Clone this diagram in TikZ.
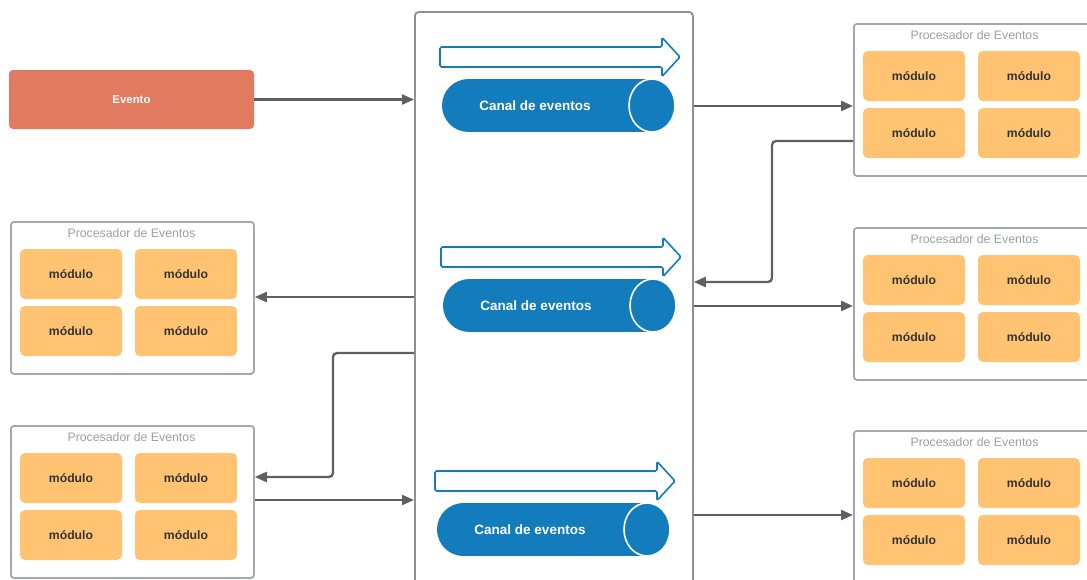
\documentclass[tikz,border=0pt]{standalone}
\usepackage{fontspec}
\setmainfont{Liberation Sans}
\usetikzlibrary{arrows.meta,calc}

\definecolor{evred}{HTML}{E27A5F}
\definecolor{chanblue}{HTML}{137CBD}
\definecolor{modorange}{HTML}{FFC372}
\definecolor{procgray}{HTML}{A3A8AF}
\definecolor{busgray}{HTML}{8C9198}
\definecolor{linegray}{HTML}{5F5F5F}
\definecolor{titlegray}{HTML}{9AA0A7}
\definecolor{modtext}{HTML}{333333}

% event channel: hollow flow arrow above a lying cylinder
% #1 name, #2 left x of the arrow, #3 centre y of the cylinder
\newcommand\eventchannel[3]{%
  \draw[chanblue, line width=1.6pt, rounded corners=1.5pt]
    (#2,#3-58.5) -- (#2+222,#3-58.5) -- (#2+222,#3-68) -- (#2+240,#3-48.5)
    -- (#2+222,#3-29) -- (#2+222,#3-38.5) -- (#2,#3-38.5) -- cycle;
  \fill[chanblue] (#2+28.5,#3) circle[radius=26.5];
  \fill[chanblue] (#2+28.5,#3-26.5) rectangle (#2+212,#3+26.5);
  \filldraw[fill=chanblue, draw=white, line width=1.6pt]
    (#2+212,#3) ellipse[x radius=23, y radius=26.5];
  \node[chantext] (#1) at (#2+95,#3) {Canal de eventos};
}

% event processor with its title and four modules
% #1 name, #2 left x, #3 top y
\newcommand\eventprocessor[3]{%
  \node[proc, anchor=north west] (#1) at (#2,#3) {};
  \node[ptitle] (#1-title) at (#2+121.5,#3+12) {Procesador de Eventos};
  \node[modbox] (#1-m1) at (#2+61,#3+53) {módulo};
  \node[modbox] (#1-m2) at (#2+176,#3+53) {módulo};
  \node[modbox] (#1-m3) at (#2+61,#3+110) {módulo};
  \node[modbox] (#1-m4) at (#2+176,#3+110) {módulo};
}

\begin{document}
\begin{tikzpicture}[x=1pt, y=-1pt,
  conn/.style={draw=linegray, line width=2.3pt, rounded corners=4pt,
    -{Triangle[length=12pt,width=10pt]}},
  proc/.style={draw=procgray, line width=1.8pt, rounded corners=3pt, fill=white,
    minimum width=243pt, minimum height=152pt, inner sep=0pt},
  ptitle/.style={text=titlegray, font=\fontsize{12.3}{14}\selectfont, inner sep=0pt},
  modbox/.style={fill=modorange, rounded corners=5pt, minimum width=102pt,
    minimum height=50pt, inner sep=0pt, text=modtext,
    font=\bfseries\fontsize{12.2}{14}\selectfont},
  chantext/.style={text=white, font=\bfseries\fontsize{13.5}{16}\selectfont, inner sep=0pt},
  evbox/.style={fill=evred, rounded corners=4pt, minimum width=245pt,
    minimum height=59pt, inner sep=0pt, text=white,
    font=\bfseries\fontsize{11.4}{14}\selectfont},
  busbox/.style={draw=busgray, line width=1.8pt, rounded corners=4pt, fill=white,
    minimum width=278pt, minimum height=620pt, inner sep=0pt}
]
\useasboundingbox (0,0) rectangle (1087,579);
\fill[white] (0,0) rectangle (1087,579);

% event bus holding the three channels
\node[busbox, anchor=north west] (bus) at (414,11) {};
\eventchannel{chanA}{440}{105.5}
\eventchannel{chanB}{441}{305.5}
\eventchannel{chanC}{435}{529.5}

% initial event
\node[evbox] (ev) at (131.5,99.5) {Evento};

% processors
\eventprocessor{procR1}{853}{23}
\eventprocessor{procR2}{853}{227}
\eventprocessor{procR3}{853}{430}
\eventprocessor{procL1}{10}{221}
\eventprocessor{procL2}{10}{425}

% connectors
\draw[conn] (ev.east) -- (ev.east -| bus.west);
\draw[conn] (bus.east |- 0,106) -- (procR1.west |- 0,106);
\draw[conn] (procR1.west |- 0,141) -- (772,141) -- (772,282) -- (bus.east |- 0,282);
\draw[conn] (bus.east |- 0,306) -- (procR2.west |- 0,306);
\draw[conn] (bus.east |- 0,515) -- (procR3.west |- 0,515);
\draw[conn] (bus.west |- 0,297) -- (procL1.east |- 0,297);
\draw[conn] (bus.west |- 0,353) -- (333,353) -- (333,477) -- (procL2.east |- 0,477);
\draw[conn] (procL2.east |- 0,500) -- (bus.west |- 0,500);
\end{tikzpicture}
\end{document}
